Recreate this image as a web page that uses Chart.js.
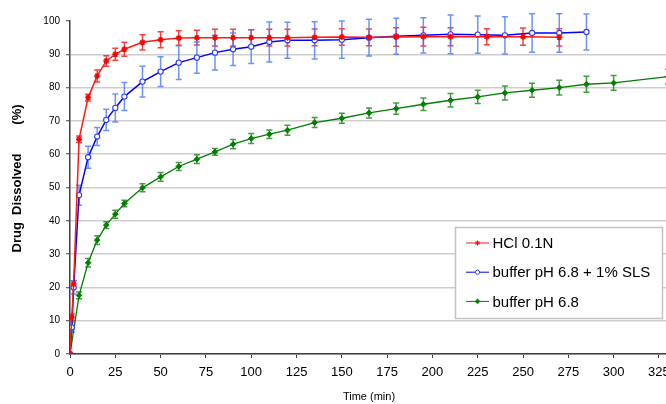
<!DOCTYPE html>
<html>
<head>
<meta charset="utf-8">
<script src="https://cdn.jsdelivr.net/npm/chart.js@4/dist/chart.umd.min.js"></script>
<style>
  html, body { margin: 0; padding: 0; background: #fff; overflow: hidden; }
  #wrap { position: relative; width: 690px; height: 404px; }
</style>
</head>
<body>
<div id="wrap"><canvas id="dissolution"></canvas></div>
<script>
// Time points (min) and % dissolved per medium, with +/- error
const hclTime = [0, 1, 2, 5, 10, 15, 20, 25, 30, 40, 50, 60, 70, 80, 90, 100, 110, 120, 135, 150, 165, 180, 195, 210, 230, 250, 270];
const hclValues = [0, 11, 21, 64.5, 77, 83.5, 88, 90, 91.5, 93.6, 94.4, 94.9, 95, 95, 95, 95, 95, 95, 95.1, 95.2, 95.1, 95.2, 95.3, 95.3, 95.3, 95.3, 95.1];
const hclErr = [0, 1, 1, 1, 1, 1.8, 1.6, 1.8, 2.1, 2.3, 2.4, 2.2, 2.2, 2.5, 2.5, 2.4, 2.5, 2.5, 2.5, 2.5, 2.5, 2.8, 2.8, 2.7, 2.4, 2.6, 2.6];

const slsTime = [0, 1, 2, 5, 10, 15, 20, 25, 30, 40, 50, 60, 70, 80, 90, 100, 110, 120, 135, 150, 165, 180, 195, 210, 225, 240, 255, 270, 285];
const slsValues = [0, 8, 20, 47.7, 59.1, 65.3, 70.3, 73.9, 77.3, 81.8, 84.8, 87.5, 89, 90.5, 91.5, 92.3, 93.7, 94.2, 94.2, 94.4, 95, 95.4, 95.7, 96, 95.9, 95.7, 96.4, 96.4, 96.7];
const slsErr = [0, 1.5, 2, 3, 3.3, 2.7, 3.2, 4.2, 4.2, 4.6, 4.5, 5.1, 4.7, 5.2, 4.9, 5.1, 6, 5.4, 5.6, 5.6, 5.5, 5.4, 5.3, 5.8, 5.6, 5.6, 5.8, 5.8, 5.4];

const bufTime = [0, 5, 10, 15, 20, 25, 30, 40, 50, 60, 70, 80, 90, 100, 110, 120, 135, 150, 165, 180, 195, 210, 225, 240, 255, 270, 285, 300, 330];
const bufValues = [0, 17.6, 27.4, 34.2, 38.7, 42, 45.2, 49.9, 53.2, 56.3, 58.5, 60.7, 63, 64.7, 66, 67.2, 69.5, 70.8, 72.4, 73.7, 75, 76.2, 77.2, 78.4, 79.2, 80, 81, 81.4, 83.3];
const bufErr = [0, 1, 1.3, 1.3, 1, 1.2, 1, 1.2, 1.3, 1.2, 1.3, 1, 1.4, 1.5, 1.3, 1.5, 1.5, 1.5, 1.5, 1.7, 1.9, 2, 2, 2.1, 2.1, 2.2, 2.4, 2.2, 2.2];

const seriesLabels = ["HCl 0.1N", "buffer pH 6.8 + 1% SLS", "buffer pH 6.8"];
const xTicks = [0, 25, 50, 75, 100, 125, 150, 175, 200, 225, 250, 275, 300, 325];
const yTickStep = 10;

const toPoints = (xs, ys) => xs.map((t, i) => ({ x: t, y: ys[i] }));
const FONT = '"Liberation Sans", Arial, sans-serif';

// vertical error bars with caps, drawn under the lines
const errorBars = {
  id: "errorBars",
  beforeDatasetsDraw(chart) {
    const { ctx, chartArea, scales } = chart;
    ctx.save();
    ctx.beginPath();
    ctx.rect(chartArea.left, chartArea.top - 12, chartArea.width, chartArea.height + 12);
    ctx.clip();
    chart.data.datasets.forEach(ds => {
      ctx.strokeStyle = ds.errColor;
      ctx.lineWidth = 1.5;
      ds.data.forEach((p, i) => {
        const e = ds.errors[i];
        if (!e) return;
        const px = scales.x.getPixelForValue(p.x);
        const top = scales.y.getPixelForValue(p.y + e);
        const bot = scales.y.getPixelForValue(p.y - e);
        ctx.beginPath();
        ctx.moveTo(px, top); ctx.lineTo(px, bot);
        ctx.moveTo(px - 3, top); ctx.lineTo(px + 3, top);
        ctx.moveTo(px - 3, bot); ctx.lineTo(px + 3, bot);
        ctx.stroke();
      });
    });
    ctx.restore();
  }
};

// boxed legend inside the plot area, lower right
const boxLegend = {
  id: "boxLegend",
  afterDraw(chart) {
    const { ctx, chartArea } = chart;
    const bx = chartArea.right - 212.5, by = chartArea.top + 206.5, bw = 207, bh = 91;
    ctx.save();
    ctx.fillStyle = "#fff";
    ctx.fillRect(bx, by, bw, bh);
    ctx.strokeStyle = "#c4c4c4";
    ctx.lineWidth = 1.5;
    ctx.strokeRect(bx, by, bw, bh);
    ctx.font = "15px " + FONT;
    ctx.textBaseline = "middle";
    chart.data.datasets.forEach((ds, i) => {
      const cy = by + 15.5 + i * 29.2;
      ctx.strokeStyle = ds.borderColor;
      ctx.lineWidth = 1;
      ctx.beginPath();
      ctx.moveTo(bx + 10.5, cy); ctx.lineTo(bx + 33.5, cy);
      ctx.stroke();
      ctx.fillStyle = ds.pointBackgroundColor;
      ctx.strokeStyle = ds.pointBorderColor;
      Chart.helpers.drawPoint(ctx, { pointStyle: ds.pointStyle, radius: ds.pointRadius - 0.5, borderWidth: 1, rotation: 0 }, bx + 22, cy);
      ctx.fillStyle = "#000";
      ctx.fillText(ds.label, bx + 37, cy + 1);
    });
    ctx.restore();
  }
};

new Chart(document.getElementById("dissolution"), {
  type: "line",
  data: {
    datasets: [
      {
        label: seriesLabels[0],
        data: toPoints(hclTime, hclValues),
        errors: hclErr,
        errColor: "rgba(255,30,30,0.85)",
        borderColor: "#ff1a1a",
        borderWidth: 1.5,
        pointStyle: "star",
        pointRadius: 3,
        pointBorderWidth: 1.5,
        pointBackgroundColor: "#ff0000",
        pointBorderColor: "#ff0000",
        tension: 0
      },
      {
        label: seriesLabels[1],
        data: toPoints(slsTime, slsValues),
        errors: slsErr,
        errColor: "rgba(70,120,255,0.8)",
        borderColor: "#0000ff",
        borderWidth: 1.5,
        pointStyle: "circle",
        pointRadius: 2.6,
        pointBorderWidth: 1.1,
        pointBackgroundColor: "#ffffff",
        pointBorderColor: "#2a3cff",
        tension: 0
      },
      {
        label: seriesLabels[2],
        data: toPoints(bufTime, bufValues),
        errors: bufErr,
        errColor: "rgba(20,130,20,0.8)",
        borderColor: "#008000",
        borderWidth: 1.3,
        pointStyle: "rectRot",
        pointRadius: 2.8,
        pointBorderWidth: 1,
        pointBackgroundColor: "#008000",
        pointBorderColor: "#008000",
        tension: 0
      }
    ]
  },
  options: {
    responsive: true,
    maintainAspectRatio: false,
    animation: false,
    layout: { padding: { top: 21, right: 22, bottom: 0, left: 0 } },
    plugins: {
      legend: { display: false },
      tooltip: { enabled: false }
    },
    scales: {
      x: {
        type: "linear",
        min: 0,
        max: 330,
        afterBuildTicks: axis => { axis.ticks = xTicks.map(v => ({ value: v })); },
        afterFit: axis => { axis.height = 50; },
        ticks: { color: "#000", font: { family: FONT, size: 13 }, padding: 7, maxRotation: 0, autoSkip: false },
        grid: { drawOnChartArea: false, tickLength: 4, tickColor: "#404040", tickWidth: 1 },
        border: { color: "#404040", width: 1.5 },
        title: { display: true, text: "Time (min)", color: "#000", font: { family: FONT, size: 11 }, padding: { top: 0, bottom: 0 } }
      },
      y: {
        min: 0,
        max: 100,
        afterFit: axis => { axis.width = 70; },
        ticks: { stepSize: yTickStep, color: "#000", font: { family: FONT, size: 10 }, padding: 6 },
        grid: {
          color: c => (c.tick && c.tick.value === 100 ? "rgba(0,0,0,0)" : "#cdcdcd"),
          lineWidth: 1.5,
          tickLength: 4,
          tickColor: "#404040",
          tickWidth: 1
        },
        border: { color: "#404040", width: 1.5 },
        title: { display: true, text: "     Drug  Dissolved        (%)", color: "#000", font: { family: FONT, size: 13, weight: "bold" }, padding: { top: 10, bottom: 0 } }
      }
    }
  },
  plugins: [errorBars, boxLegend]
});
</script>
</body>
</html>
